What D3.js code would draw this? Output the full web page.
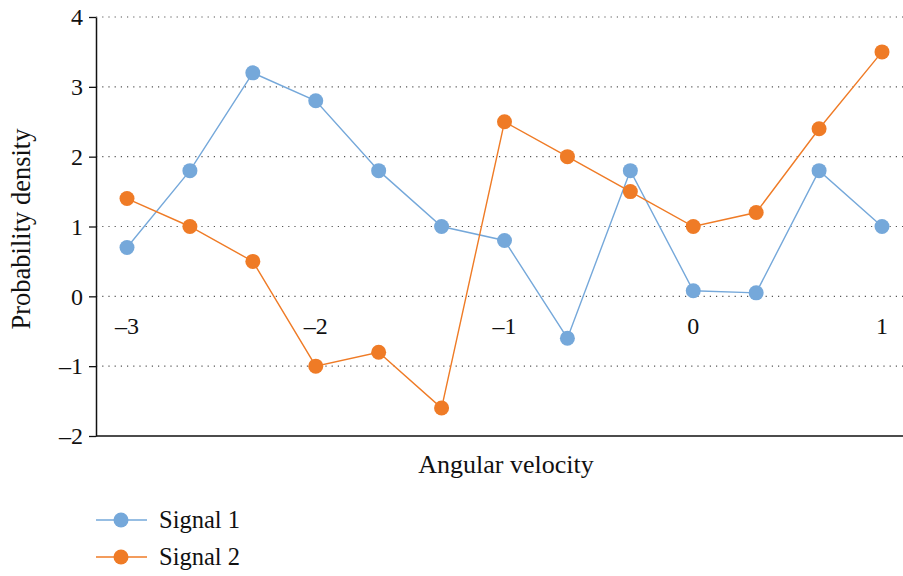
<!DOCTYPE html>
<html>
<head>
<meta charset="utf-8">
<script src="https://cdn.jsdelivr.net/npm/d3@7"></script>
<style>
  html, body { margin: 0; padding: 0; background: #fff; }
  svg { display: block; }
  svg text { font-family: "Liberation Serif", "Times New Roman", serif; }
</style>
</head>
<body>
<svg id="chart" width="903" height="576"></svg>
<script>
// Sample positions along the angular velocity axis
const xValues = [-3, -8/3, -7/3, -2, -5/3, -4/3, -1, -2/3, -1/3, 0, 1/3, 2/3, 1];
const signal1 = [0.7, 1.8, 3.2, 2.8, 1.8, 1.0, 0.8, -0.6, 1.8, 0.08, 0.05, 1.8, 1.0];
const signal2 = [1.4, 1.0, 0.5, -1.0, -0.8, -1.6, 2.5, 2.0, 1.5, 1.0, 1.2, 2.4, 3.5];
const xTicks = [-3, -2, -1, 0, 1];
const yTicks = [-2, -1, 0, 1, 2, 3, 4];
const seriesNames = ["Signal 1", "Signal 2"];
const seriesColors = ["#75a8da", "#ef7b26"];

const FONT = "Liberation Serif, Times New Roman, serif";
const svg = d3.select("#chart");
const fmt = v => (v < 0 ? "\u2013" + Math.abs(v) : String(v));

const x = d3.scaleLinear().domain([-3, 1]).range([127, 882]);
const y = d3.scaleLinear().domain([-2, 4]).range([436, 17]);
const axisLeft = 96, plotRight = 903;

// Dotted horizontal gridlines
svg.append("g").selectAll("line")
  .data(yTicks.filter(v => v > -2))
  .join("line")
  .attr("x1", axisLeft).attr("x2", plotRight)
  .attr("y1", d => y(d)).attr("y2", d => y(d))
  .attr("stroke", "#555").attr("stroke-width", 1.2)
  .attr("stroke-dasharray", "1.2,5");

// Y axis with outward ticks
const yAxis = svg.append("g")
  .attr("transform", `translate(${axisLeft},0)`)
  .call(d3.axisLeft(y).tickValues(yTicks).tickFormat(fmt).tickSize(7).tickSizeOuter(0))
  .attr("font-family", FONT);
yAxis.select(".domain").attr("stroke", "#111").attr("stroke-width", 1.5);
yAxis.selectAll(".tick line").attr("stroke", "#111").attr("stroke-width", 1.3);
yAxis.selectAll(".tick text")
  .attr("x", -13)
  .attr("font-family", FONT)
  .attr("font-size", 24).attr("fill", "#111");

// Bottom baseline
svg.append("line")
  .attr("x1", axisLeft).attr("x2", plotRight)
  .attr("y1", y(-2)).attr("y2", y(-2))
  .attr("stroke", "#111").attr("stroke-width", 1.5);

// X tick labels sit just below the zero line
svg.append("g").selectAll("text")
  .data(xTicks)
  .join("text")
  .attr("x", d => x(d))
  .attr("y", y(0) + 38)
  .attr("text-anchor", "middle")
  .attr("font-family", FONT)
  .attr("font-size", 24).attr("fill", "#111")
  .text(fmt);

// Series lines and markers
const series = [signal1, signal2];
const line = d3.line().x(d => x(d[0])).y(d => y(d[1]));
series.forEach((vals, i) => {
  const pts = xValues.map((xv, j) => [xv, vals[j]]);
  const g = svg.append("g");
  g.append("path")
    .attr("d", line(pts))
    .attr("fill", "none")
    .attr("stroke", seriesColors[i])
    .attr("stroke-width", 1.4);
  g.selectAll("circle").data(pts).join("circle")
    .attr("cx", d => x(d[0])).attr("cy", d => y(d[1]))
    .attr("r", 7.5)
    .attr("fill", seriesColors[i]);
});

// Axis titles
svg.append("text")
  .attr("x", 506).attr("y", 473)
  .attr("text-anchor", "middle")
  .attr("font-family", FONT)
  .attr("font-size", 26).attr("fill", "#111")
  .text("Angular velocity");
svg.append("text")
  .attr("transform", `translate(30,229) rotate(-90)`)
  .attr("text-anchor", "middle")
  .attr("font-family", FONT)
  .attr("font-size", 26.5).attr("fill", "#111")
  .text("Probability density");

// Legend
const legend = svg.append("g");
seriesNames.forEach((name, i) => {
  const ly = 520 + i * 37;
  legend.append("line")
    .attr("x1", 96).attr("x2", 147).attr("y1", ly).attr("y2", ly)
    .attr("stroke", seriesColors[i]).attr("stroke-width", 1.4);
  legend.append("circle")
    .attr("cx", 121).attr("cy", ly).attr("r", 7.5)
    .attr("fill", seriesColors[i]);
  legend.append("text")
    .attr("x", 159).attr("y", ly + 8)
    .attr("font-family", FONT)
    .attr("font-size", 24.5).attr("fill", "#111")
    .text(name);
});
</script>
</body>
</html>
